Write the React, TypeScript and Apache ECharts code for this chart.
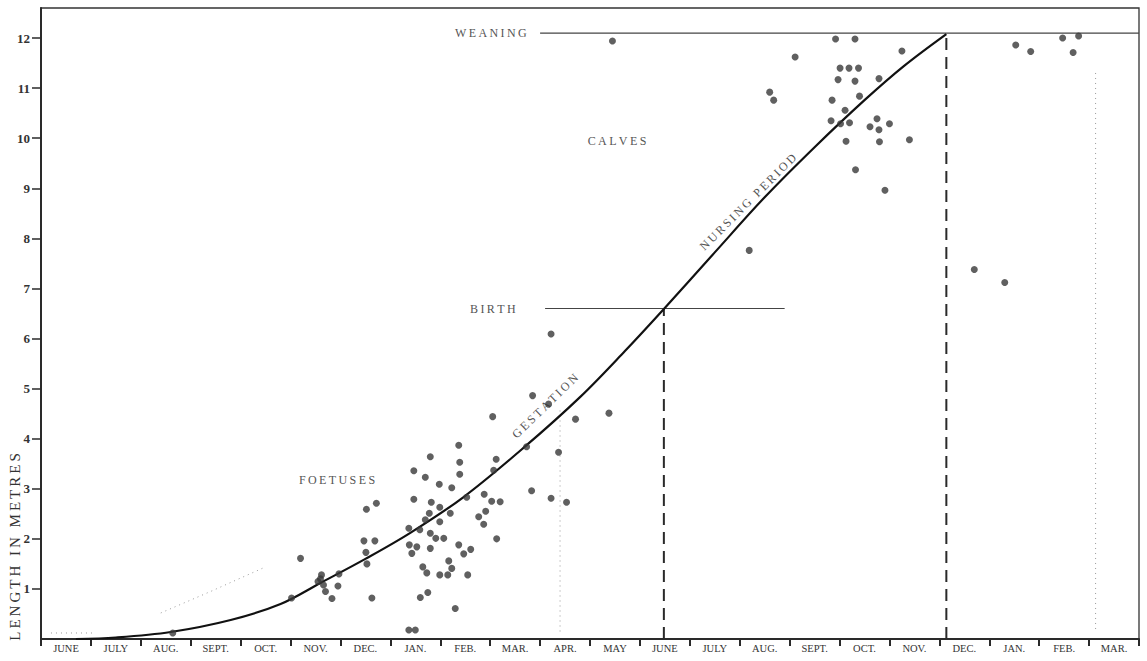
import React, { useEffect, useRef } from "react";
import * as echarts from "echarts";

const monthLabels = ["JUNE","JULY","AUG.","SEPT.","OCT.","NOV.","DEC.","JAN.","FEB.","MAR.","APR.","MAY","JUNE","JULY","AUG.","SEPT.","OCT.","NOV.","DEC.","JAN.","FEB.","MAR."];
const yTickValues = [1,2,3,4,5,6,7,8,9,10,11,12];

// growth curve [month from start of first June, metres]
const growthCurve = [
  [0.7,0],[1.5,0.03],[2.6,0.14],[3.8,0.38],[4.8,0.7],[5.6,1.12],[6.5,1.6],[7.4,2.12],
  [8.46,2.83],[9.66,3.81],[10.8,4.83],[11.7,5.75],[12.48,6.59],[13.5,7.72],[14.5,8.82],
  [15.5,9.82],[16.5,10.76],[17.3,11.45],[18.14,12.08]
];

const foetuses = [
  [5.2,1.61],[5.6,1.2],[5.66,1.08],[5.55,1.15],[5.62,1.28],[5.83,0.81],[5.97,1.3],[5.95,1.06],
  [5.02,0.82],[6.53,1.5],[6.52,2.59],[6.72,2.71],[6.47,1.96],[6.69,1.96],[6.51,1.73],[6.63,0.82],
  [7.47,3.36],[7.47,2.79],[7.7,3.23],[7.8,3.64],[7.98,3.09],[8.23,3.02],[7.82,2.73],[7.99,2.63],
  [7.78,2.51],[7.7,2.38],[7.99,2.34],[8.2,2.51],[7.37,2.21],[7.59,2.18],[7.8,2.11],[7.91,2.01],
  [8.07,2.01],[7.38,1.88],[7.53,1.84],[7.43,1.71],[7.8,1.81],[8.37,1.88],[8.47,1.7],[8.61,1.79],
  [8.17,1.56],[8.23,1.41],[7.65,1.44],[7.73,1.32],[7.99,1.28],[8.15,1.28],[8.55,1.28],[7.75,0.93],
  [7.6,0.83],[8.3,0.61],[7.37,0.18],[7.5,0.18],[8.37,3.87],[8.39,3.53],[8.39,3.29],[8.53,2.83],
  [8.88,2.89],[9.03,2.75],[9.2,2.74],[8.91,2.55],[8.77,2.44],[8.87,2.29],[9.13,2.0],[9.05,4.44],
  [9.12,3.59],[9.07,3.37],[9.85,4.86],[10.17,4.69],[10.22,6.09],[10.37,3.73],[10.71,4.39],
  [9.83,2.96],[10.22,2.81],[10.53,2.73],[9.73,3.84],[11.38,4.51],[2.64,0.12],[5.7,0.95]
];

const calves = [
  [11.45,11.94],[14.19,7.76],[15.11,11.62],[14.6,10.92],[14.68,10.76],[15.92,11.98],[16.31,11.98],
  [17.25,11.74],[16.01,11.4],[16.19,11.4],[16.38,11.4],[15.97,11.17],[16.31,11.14],[16.79,11.19],
  [16.4,10.84],[15.85,10.76],[16.11,10.56],[15.83,10.35],[16.02,10.29],[16.2,10.31],[16.75,10.39],
  [16.61,10.23],[16.79,10.17],[17.0,10.29],[17.4,9.97],[16.13,9.94],[16.8,9.93],[16.32,9.37],
  [16.91,8.96],[18.7,7.38],[19.31,7.12],[19.53,11.86],[19.83,11.73],[20.47,12.0],[20.79,12.04],
  [20.68,11.71]
];

const birthLine = [[10.1,6.6],[14.9,6.6]];
const weaningLine = [[10.0,12.1],[22,12.1]];
const birthDrop = [[12.48,0],[12.48,6.59]];
const weaningDrop = [[18.14,0],[18.14,12.08]];
const dottedRight = [[21.13,0.2],[21.13,11.35]];
const dottedApril = [[10.4,0.15],[10.4,4.6]];
const dottedEarly = [[2.4,0.52],[3.4,0.95],[4.5,1.44]];
const dottedStart = [[0.2,0.12],[1.1,0.12]];

const sp = (s: string) => s.split("").join("\u2009");

export default function App() {
  const ref = useRef<HTMLDivElement>(null);
  useEffect(() => {
    if (!ref.current) return;
    const chart = echarts.init(ref.current, null, { renderer: "svg" });
    const serif = "'Liberation Serif', 'DejaVu Serif', serif";
    const ink = "#2a2a2a";
    const dotted = (data: number[][]) => ({
      type: "line", data, symbol: "none", silent: true,
      lineStyle: { color: "#999", width: 1, type: [1, 4] }, z: 1
    });
    chart.setOption({
      animation: false,
      backgroundColor: "#ffffff",
      grid: { left: 41, right: 8, top: 8, bottom: 22, show: true, borderColor: "#333", borderWidth: 1.3 },
      xAxis: [
        { type: "value", min: 0, max: 22, show: false },
        {
          type: "category", data: monthLabels.map((_, i) => String(i)), boundaryGap: true, position: "bottom",
          axisLine: { show: true, lineStyle: { color: ink, width: 2 } },
          axisTick: { show: true, interval: 0, length: 7, lineStyle: { color: ink, width: 2 } },
          axisLabel: { interval: 0, margin: 4, fontFamily: serif, fontSize: 10.5, color: "#333",
            formatter: (_v: string, i: number) => monthLabels[i] }
        }
      ],
      yAxis: {
        type: "value", min: 0, max: 12.6, interval: 1,
        splitLine: { show: false },
        axisLine: { show: true, lineStyle: { color: ink, width: 2 } },
        axisTick: { show: true, length: 9, customValues: yTickValues, lineStyle: { color: ink, width: 1.5 } },
        axisLabel: { margin: 11, customValues: yTickValues, fontFamily: serif, fontSize: 13, fontWeight: "bold", color: "#333" }
      },
      series: [
        dotted(dottedRight), dotted(dottedApril), dotted(dottedEarly), dotted(dottedStart),
        { type: "line", data: birthLine, symbol: "none", silent: true, lineStyle: { color: "#444", width: 1.2 } },
        { type: "line", data: weaningLine, symbol: "none", silent: true, lineStyle: { color: "#444", width: 1.2 } },
        { type: "line", data: birthDrop, symbol: "none", silent: true, lineStyle: { color: ink, width: 2, type: [12, 7] } },
        { type: "line", data: weaningDrop, symbol: "none", silent: true, lineStyle: { color: ink, width: 2, type: [12, 7] } },
        { type: "line", data: growthCurve, symbol: "none", smooth: 0.35, silent: true, lineStyle: { color: "#111", width: 2.2 }, z: 3 },
        { type: "scatter", name: "Foetuses", data: foetuses, symbolSize: 7, itemStyle: { color: "#383838" }, z: 4 },
        { type: "scatter", name: "Calves", data: calves, symbolSize: 7, itemStyle: { color: "#383838" }, z: 4 }
      ],
      graphic: [
        { type: "text", x: 455, y: 33, style: { text: sp("WEANING"), font: `12px ${serif}`, fill: "#555", verticalAlign: "middle" } },
        { type: "text", x: 617, y: 141, style: { text: sp("CALVES"), font: `12px ${serif}`, fill: "#555", align: "center", verticalAlign: "middle" } },
        { type: "text", x: 470, y: 309, style: { text: sp("BIRTH"), font: `12px ${serif}`, fill: "#555", verticalAlign: "middle" } },
        { type: "text", x: 337, y: 480, style: { text: sp("FOETUSES"), font: `12px ${serif}`, fill: "#555", align: "center", verticalAlign: "middle" } },
        { type: "text", x: 545, y: 406, rotation: 44 * Math.PI / 180, style: { text: sp("GESTATION"), font: `12px ${serif}`, fill: "#555", align: "center", verticalAlign: "middle" } },
        { type: "text", x: 748, y: 202, rotation: 45 * Math.PI / 180, style: { text: sp("NURSING PERIOD"), font: `12px ${serif}`, fill: "#555", align: "center", verticalAlign: "middle" } },
        { type: "text", x: 15, y: 547, rotation: Math.PI / 2, style: { text: sp("LENGTH IN METRES"), font: `15px ${serif}`, fill: "#333", align: "center", verticalAlign: "middle" } }
      ]
    });
    return () => chart.dispose();
  }, []);
  return <div ref={ref} style={{ position: "fixed", left: 0, top: 0, width: 1147, height: 661 }} />;
}
